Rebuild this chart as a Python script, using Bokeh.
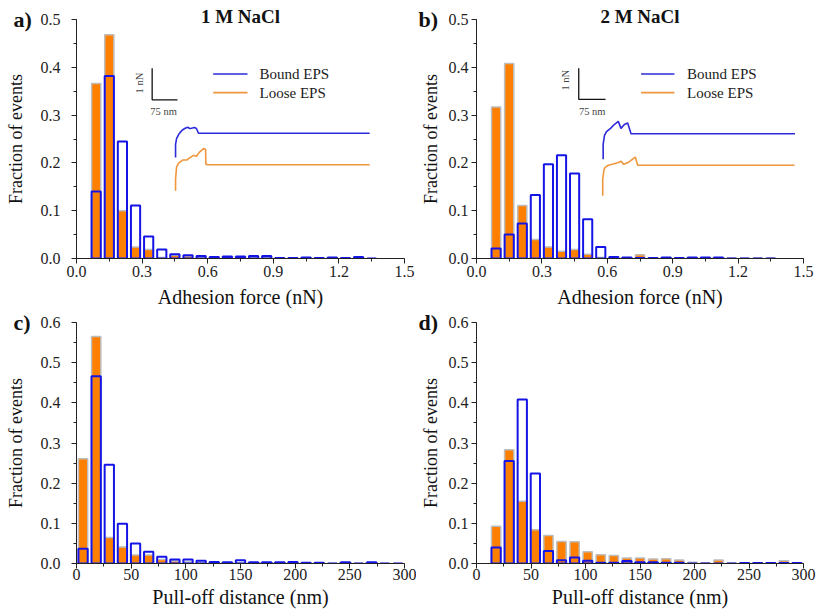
import math
from bokeh.plotting import figure
from bokeh.layouts import gridplot
from bokeh.models import Label, Range1d, SingleIntervalTicker, PrintfTickFormatter, Title
from bokeh.embed import file_html
from bokeh.resources import INLINE

# ---------------- data ----------------
force_centers = [0.09, 0.15, 0.21, 0.27, 0.33, 0.39, 0.45, 0.51, 0.57, 0.63, 0.69,
                 0.75, 0.81, 0.87, 0.93, 0.99, 1.05, 1.11, 1.17, 1.23, 1.29, 1.35]
a_bound = [0.140, 0.382, 0.245, 0.111, 0.046, 0.019, 0.009, 0.007, 0.005, 0.003, 0.004,
           0.004, 0.005, 0.005, 0.001, 0.001, 0.002, 0.001, 0.002, 0.001, 0.003, 0.0]
a_loose = [0.366, 0.468, 0.100, 0.024, 0.019, 0.002, 0.007, 0.005, 0.003, 0.002, 0.002,
           0.001, 0.002, 0.001, 0.001, 0.001, 0.001, 0.001, 0.001, 0.001, 0.001, 0.0]
b_bound = [0.021, 0.050, 0.073, 0.133, 0.197, 0.216, 0.178, 0.082, 0.024, 0.003, 0.002,
           0.001, 0.001, 0.002, 0.001, 0.002, 0.002, 0.002, 0.0, 0.0, 0.0, 0.0]
b_loose = [0.317, 0.408, 0.111, 0.040, 0.024, 0.015, 0.019, 0.009, 0.002, 0.0, 0.001,
           0.008, 0.001, 0.001, 0.001, 0.001, 0.001, 0.001, 0.001, 0.001, 0.001, 0.001]

c_centers = [6, 18, 30, 42, 54, 66, 78, 90, 102, 114, 126, 138, 150, 162, 174, 186,
             198, 210, 222, 234, 246, 258, 270, 282, 294]
c_bound = [0.037, 0.466, 0.246, 0.099, 0.050, 0.029, 0.017, 0.010, 0.010, 0.007, 0.004,
           0.003, 0.008, 0.003, 0.003, 0.003, 0.004, 0.002, 0.002, 0.0, 0.003, 0.0,
           0.003, 0.0, 0.0]
c_loose = [0.261, 0.565, 0.065, 0.041, 0.021, 0.021, 0.010, 0.006, 0.004, 0.002, 0.001,
           0.001, 0.001, 0.001, 0.001, 0.0, 0.0, 0.0, 0.0, 0.0, 0.0, 0.0, 0.0, 0.0, 0.0]

d_centers = [18, 30, 42, 54, 66, 78, 90, 102, 114, 126, 138, 150, 162, 174, 186, 198,
             210, 222, 234, 246, 258, 270, 282, 294]
d_bound = [0.040, 0.255, 0.408, 0.224, 0.031, 0.008, 0.015, 0.007, 0.002, 0.002, 0.006,
           0.003, 0.003, 0.002, 0.002, 0.0, 0.0, 0.0, 0.0, 0.001, 0.001, 0.001, 0.001, 0.001]
d_loose = [0.093, 0.283, 0.155, 0.084, 0.070, 0.055, 0.054, 0.029, 0.022, 0.020, 0.014,
           0.014, 0.011, 0.012, 0.009, 0.003, 0.002, 0.009, 0.001, 0.001, 0.001, 0.001,
           0.007, 0.001]

# inset force curves (distance in nm, force in nN relative to baseline)
a_bound_nm = [0, 0, 3, 9, 18, 27, 36, 42, 47, 56, 62, 68, 576]
a_bound_nN = [-0.76, -0.35, -0.17, -0.04, 0.08, 0.15, 0.19, 0.15, 0.16, 0.18, 0.15, 0.0, 0.0]
a_loose_nm = [0, 0, 3, 9, 21, 33, 45, 53, 62, 71, 83, 89, 90, 95, 576]
a_loose_nN = [-0.82, -0.45, -0.07, 0.05, 0.15, 0.15, 0.24, 0.30, 0.27, 0.40, 0.51, 0.49,
              0.02, 0.0, 0.0]
b_bound_nm = [0, 0, 4, 10, 22, 33, 45, 53, 63, 73, 83, 571]
b_bound_nN = [-0.80, -0.33, -0.05, 0.07, 0.17, 0.29, 0.39, 0.17, 0.29, 0.34, 0.0, 0.0]
b_loose_nm = [0, 0, 4, 8, 17, 29, 44, 55, 62, 76, 97, 104, 571]
b_loose_nN = [-0.96, -0.44, -0.13, -0.06, 0.0, 0.03, 0.08, 0.13, 0.03, 0.09, 0.26, 0.0, 0.0]

series_names = ["Bound EPS", "Loose EPS"]
titles = ["1 M NaCl", "2 M NaCl"]
panel_tags = ["a)", "b)", "c)", "d)"]

# ---------------- styles ----------------
FONT = "Liberation Serif"
ORANGE = "#FF8000"
ORANGE_EDGE = "#BDBDBD"
BLUE = "#1414E6"
CURVE_BLUE = "#2B2BD9"
CURVE_ORANGE = "#F0963C"
AXIS = "#222222"


def make_fig(width, height, left, right, top, bottom, xmax, ymax, xint, xfmt, xlabel,
             ylab_standoff, ytitle_standoff, xlab_standoff, xtitle_standoff):
    p = figure(width=width, height=height, output_backend="svg", toolbar_location=None,
               x_range=Range1d(0, xmax), y_range=Range1d(0, ymax),
               min_border_left=left, min_border_right=right,
               min_border_top=top, min_border_bottom=bottom)
    p.outline_line_color = None
    p.xgrid.grid_line_color = None
    p.ygrid.grid_line_color = None
    p.background_fill_color = "white"
    p.border_fill_color = "white"
    p.xaxis.ticker = SingleIntervalTicker(interval=xint, num_minor_ticks=2)
    p.yaxis.ticker = SingleIntervalTicker(interval=0.1, num_minor_ticks=2)
    p.xaxis.formatter = PrintfTickFormatter(format=xfmt)
    p.yaxis.formatter = PrintfTickFormatter(format="%.1f")
    for ax in (p.xaxis[0], p.yaxis[0]):
        ax.axis_line_color = AXIS
        ax.major_tick_line_color = AXIS
        ax.minor_tick_line_color = AXIS
        ax.major_tick_in = 0
        ax.major_tick_out = 5
        ax.minor_tick_in = 0
        ax.minor_tick_out = 3
        ax.major_label_text_font = FONT
        ax.major_label_text_font_size = "16px"
        ax.major_label_text_color = "#222222"
        ax.axis_label_text_font = FONT
        ax.axis_label_text_font_style = "normal"
        ax.axis_label_text_color = "#111111"
    p.xaxis.axis_label = xlabel
    p.xaxis.axis_label_text_font_size = "20px"
    p.xaxis.major_label_standoff = xlab_standoff
    p.xaxis.axis_label_standoff = xtitle_standoff
    p.yaxis.axis_label = "Fraction of events"
    p.yaxis.axis_label_text_font_size = "18px"
    p.yaxis.major_label_standoff = ylab_standoff
    p.yaxis.axis_label_standoff = ytitle_standoff
    return p


def bars(p, centers, bound, loose, w):
    p.vbar(x=centers, top=loose, bottom=0, width=w, fill_color=ORANGE,
           line_color=ORANGE_EDGE, line_width=1.5)
    p.vbar(x=centers, top=bound, bottom=0, width=w, fill_alpha=0,
           line_color=BLUE, line_width=2)


def top_texts(p, tag_text, tag_offset, name_text=None):
    p.add_layout(Title(text=tag_text, align="left", offset=tag_offset, standoff=-25,
                       vertical_align="bottom", text_font=FONT, text_font_size="22px",
                       text_font_style="bold", text_color="#111111"), "above")
    if name_text is not None:
        p.add_layout(Title(text=name_text, align="center", offset=-2, standoff=-19,
                           vertical_align="bottom", text_font=FONT,
                           text_font_size="19px", text_font_style="bold",
                           text_color="#111111"), "above")


def inset(p, bar_x, bar_y0, bar_y1, bar_x1, nn_x, nn_y, nm_x, nm_y,
          leg_x0, leg_x1, leg_y0, leg_y1, txt_x,
          bnm, bnN, lnm, lnN, bx0, by0, lx0, ly0, sx, sy):
    # scale bar
    p.line(x=[bar_x, bar_x, bar_x1], y=[bar_y0, bar_y1, bar_y1], line_color="#111111",
           line_width=1.3)
    p.add_layout(Label(x=nn_x, y=nn_y, text="1 nN", angle=math.pi / 2, text_font=FONT,
                       text_font_size="10.5px", text_align="center", text_baseline="middle"))
    p.add_layout(Label(x=nm_x, y=nm_y, text="75 nm", text_font=FONT,
                       text_font_size="10.5px", text_align="center", text_baseline="middle"))
    # legend
    p.line(x=[leg_x0, leg_x1], y=[leg_y0, leg_y0], line_color=CURVE_BLUE, line_width=1.6)
    p.line(x=[leg_x0, leg_x1], y=[leg_y1, leg_y1], line_color=CURVE_ORANGE, line_width=1.6)
    p.add_layout(Label(x=txt_x, y=leg_y0, text=series_names[0], text_font=FONT,
                       text_font_size="15px", text_align="left", text_baseline="middle",
                       text_color="#222222"))
    p.add_layout(Label(x=txt_x, y=leg_y1, text=series_names[1], text_font=FONT,
                       text_font_size="15px", text_align="left", text_baseline="middle",
                       text_color="#222222"))
    # curves
    p.line(x=[bx0 + v * sx for v in bnm], y=[by0 + v * sy for v in bnN],
           line_color=CURVE_BLUE, line_width=1.6)
    p.line(x=[lx0 + v * sx for v in lnm], y=[ly0 + v * sy for v in lnN],
           line_color=CURVE_ORANGE, line_width=1.6)


fig_a = make_fig(416, 310, 76, 12, 19, 50, 1.5, 0.5, 0.3, "%.1f", "Adhesion force (nN)",
                 11, 12, 2, 6)
fig_b = make_fig(403, 310, 60, 16, 19, 50, 1.5, 0.5, 0.3, "%.1f", "Adhesion force (nN)",
                 3, 5, 2, 6)
fig_c = make_fig(416, 306, 76, 12, 12, 53, 300, 0.6000001, 50, "%d", "Pull-off distance (nm)",
                 11, 12, 0, 3)
fig_d = make_fig(403, 306, 60, 16, 12, 53, 300, 0.6000001, 50, "%d", "Pull-off distance (nm)",
                 3, 5, 0, 3)

bars(fig_a, force_centers, a_bound, a_loose, 0.042)
bars(fig_b, force_centers, b_bound, b_loose, 0.042)
bars(fig_c, c_centers, c_bound, c_loose, 8.5)
bars(fig_d, d_centers, d_bound, d_loose, 8.5)

sx_nm = 0.337 / 328 * 1.5
sy_nN = 32 / 241 * 0.5
inset(fig_a, 0.346, 0.398, 0.332, 0.462, 0.288, 0.367, 0.398, 0.307,
      0.625, 0.782, 0.386, 0.347, 0.837,
      a_bound_nm, a_bound_nN, a_loose_nm, a_loose_nN, 0.453, 0.262, 0.453, 0.196,
      sx_nm, sy_nN)
inset(fig_b, 0.469, 0.398, 0.333, 0.592, 0.408, 0.373, 0.531, 0.308,
      0.755, 0.908, 0.386, 0.347, 0.966,
      b_bound_nm, b_bound_nN, b_loose_nm, b_loose_nN, 0.581, 0.261, 0.579, 0.195,
      sx_nm, sy_nN)

top_texts(fig_a, panel_tags[0], -63, titles[0])
top_texts(fig_b, panel_tags[1], -58, titles[1])
top_texts(fig_c, panel_tags[2], -63)
top_texts(fig_d, panel_tags[3], -58)

grid = gridplot([[fig_a, fig_b], [fig_c, fig_d]], toolbar_location=None)
open("out.html", "w").write(file_html(grid, INLINE))
